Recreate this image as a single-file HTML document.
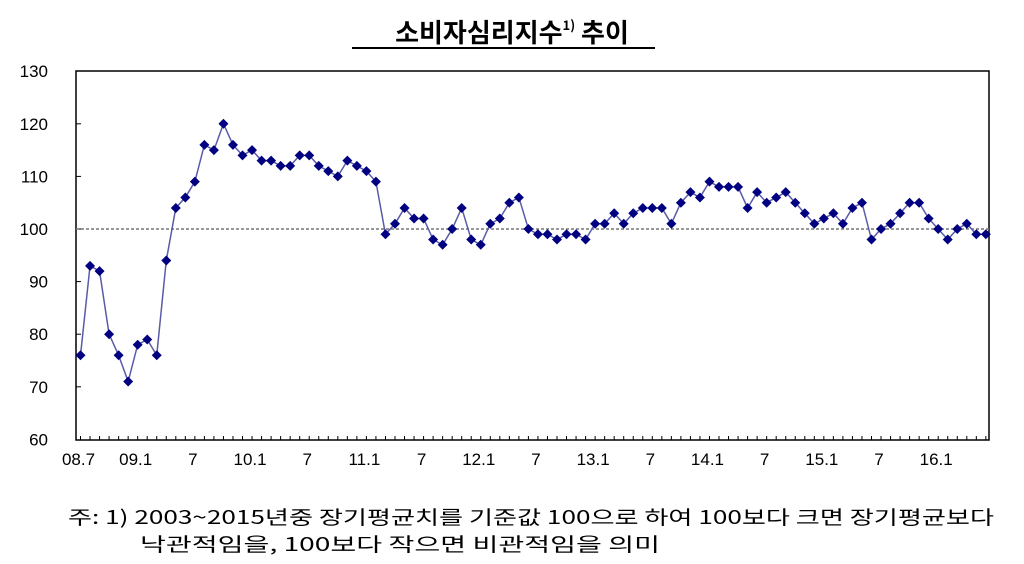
<!DOCTYPE html>
<html><head><meta charset="utf-8"><style>
html,body{margin:0;background:#fff;width:1024px;height:564px;overflow:hidden;}
svg{display:block;}
svg text{font-family:"Liberation Sans","Noto Sans CJK KR",sans-serif;}
</style></head><body>
<svg width="1024" height="564" viewBox="0 0 1024 564" xmlns="http://www.w3.org/2000/svg">
<text x="512" y="42" text-anchor="middle" font-size="26" font-weight="bold" fill="#000" style="font-family:'Noto Sans CJK KR',sans-serif">소비자심리지수<tspan font-size="13" dy="-12">1)</tspan><tspan dy="12"> 추이</tspan></text>
<line x1="352" y1="48" x2="655" y2="48" stroke="#000" stroke-width="2"/>
<g id="plot"></g>
<text x="68" y="524" font-size="19" fill="#000" textLength="926" lengthAdjust="spacingAndGlyphs" style="font-family:'Noto Sans CJK KR',sans-serif">주: 1) 2003~2015년중 장기평균치를 기준값 100으로 하여 100보다 크면 장기평균보다</text>
<text x="140" y="551" font-size="19" fill="#000" textLength="520" lengthAdjust="spacingAndGlyphs" style="font-family:'Noto Sans CJK KR',sans-serif">낙관적임을, 100보다 작으면 비관적임을 의미</text>
</svg>
<script>
const d=[76,93,92,80,76,71,78,79,76,94,104,106,109,116,115,120,116,114,115,113,113,112,112,114,114,112,111,110,113,112,111,109,99,101,104,102,102,98,97,100,104,98,97,101,102,105,106,100,99,99,98,99,99,98,101,101,103,101,103,104,104,104,101,105,107,106,109,108,108,108,104,107,105,106,107,105,103,101,102,103,101,104,105,98,100,101,103,105,105,102,100,98,100,101,99,99];
const L=76,R=989,T=71,B=440;
const y=v=>229-(v-100)*5.26, x=i=>80.5+i*9.53;
let s='';
s+=`<rect x="${L}" y="${T}" width="${R-L}" height="${B-T}" fill="none" stroke="#000" stroke-width="1.5"/>`;
for(let v=60;v<=130;v+=10){const yy=y(v);s+=`<text x="48" y="${yy+6}" text-anchor="end" font-size="17">${v}</text>`;if(v>60&&v<130)s+=`<line x1="${L}" y1="${yy}" x2="${L+5}" y2="${yy}" stroke="#000"/>`;}
s+=`<line x1="${L}" y1="${y(100)}" x2="${R}" y2="${y(100)}" stroke="#777" stroke-width="1.5" stroke-dasharray="3,2"/>`;
for(let i=0;i<96;i++){s+=`<line x1="${x(i)}" y1="${B}" x2="${x(i)}" y2="${B-4}" stroke="#000"/>`;}
const labs=[[0,'08.7'],[6,'09.1'],[12,'7'],[18,'10.1'],[24,'7'],[30,'11.1'],[36,'7'],[42,'12.1'],[48,'7'],[54,'13.1'],[60,'7'],[66,'14.1'],[72,'7'],[78,'15.1'],[84,'7'],[90,'16.1']];
labs.forEach(([i,t])=>s+=`<text x="${x(i)-2}" y="465" text-anchor="middle" font-size="17">${t}</text>`);
s+=`<polyline fill="none" stroke="#5a5aa8" stroke-width="1.5" points="${d.map((v,i)=>x(i)+','+y(v)).join(' ')}"/>`;
d.forEach((v,i)=>{const cx=x(i),cy=y(v);s+=`<polygon points="${cx},${cy-5} ${cx+5},${cy} ${cx},${cy+5} ${cx-5},${cy}" fill="#000080"/>`;});
document.getElementById('plot').innerHTML=s;
</script>
</body></html>
